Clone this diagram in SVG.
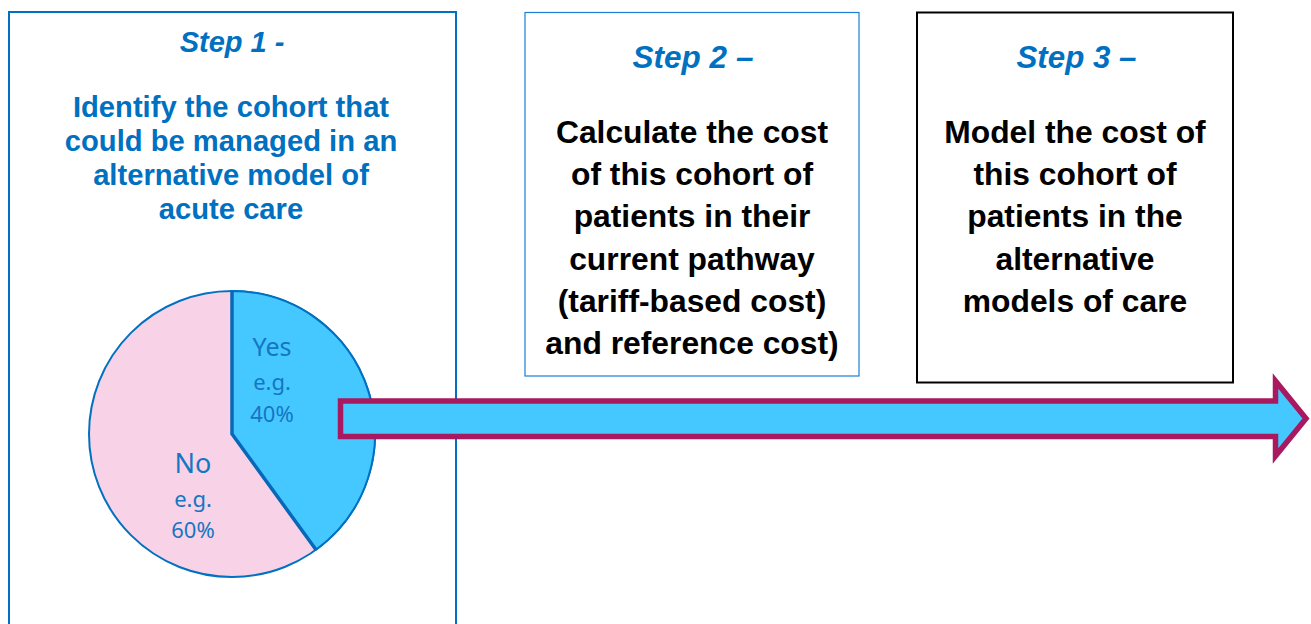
<svg xmlns="http://www.w3.org/2000/svg" width="1311" height="624" viewBox="0 0 1311 624">
<style>
.title{font-family:"Liberation Sans",Arial,sans-serif;font-weight:bold;font-style:italic;fill:#0070C0;text-anchor:middle}
.body{font-family:"Liberation Sans",Arial,sans-serif;font-weight:bold;text-anchor:middle}
.blue{fill:#0070C0}
.black{fill:#000}
.pl{font-family:"Noto Sans","Open Sans",sans-serif;fill:#1576C2;text-anchor:middle}
</style>
<rect width="1311" height="624" fill="#fff"/>
<g id="step1">
<rect x="9" y="12" width="447" height="620" fill="#fff" stroke="#0070C0" stroke-width="2"/>
<text class="title" x="232" y="52" font-size="29">Step 1 -</text>
<text class="body blue" font-size="29.2"><tspan x="231" y="117">Identify the cohort that</tspan><tspan x="231" y="151">could be managed in an</tspan><tspan x="231" y="185">alternative model of</tspan><tspan x="231" y="219">acute care</tspan></text>
</g>
<g id="pie">
<circle cx="232" cy="434" r="143" fill="#F8D3E8" stroke="#0070C0" stroke-width="2"/>
<path d="M232,434 L232,291 A143,143 0 0 1 316,549.7 Z" fill="#45C8FF" stroke="#0070C0" stroke-width="2"/>
<path d="M232,291 L232,434 L316,549.7" fill="none" stroke="#0868B8" stroke-width="3.5"/>
<text class="pl" x="272" y="356" font-size="25">Yes</text>
<text class="pl" x="272" y="390" font-size="22">e.g.</text>
<text class="pl" x="272" y="422" font-size="22">40%</text>
<text class="pl" x="193" y="473" font-size="27">No</text>
<text class="pl" x="193" y="507" font-size="22">e.g.</text>
<text class="pl" x="193" y="538" font-size="22">60%</text>
</g>
<g id="step2">
<rect x="525" y="12.5" width="334" height="363.5" fill="#fff" stroke="#1A7FD4" stroke-width="1.2"/>
<text class="title" x="693" y="68" font-size="31.5">Step 2 –</text>
<text class="body black" font-size="31.8"><tspan x="692" y="143">Calculate the cost</tspan><tspan x="692" y="185">of this cohort of</tspan><tspan x="692" y="227">patients in their</tspan><tspan x="692" y="269.5">current pathway</tspan><tspan x="692" y="312">(tariff-based cost)</tspan><tspan x="692" y="354">and reference cost)</tspan></text>
</g>
<g id="step3">
<rect x="917" y="12.5" width="316" height="370" fill="#fff" stroke="#000" stroke-width="2"/>
<text class="title" x="1076.5" y="68" font-size="31.3">Step 3 –</text>
<text class="body black" font-size="31.8"><tspan x="1075" y="142.5">Model the cost of</tspan><tspan x="1075" y="184.5">this cohort of</tspan><tspan x="1075" y="227">patients in the</tspan><tspan x="1075" y="269.5">alternative</tspan><tspan x="1075" y="312">models of care</tspan></text>
</g>
<g id="connectors">
<path d="M340.5,401 L1275.5,401 L1275.5,381 L1306,418.5 L1275.5,456 L1275.5,436.5 L340.5,436.5 Z" fill="#45C8FF" stroke="#A8195F" stroke-width="5.5" stroke-miterlimit="10"/>
</g>
</svg>
